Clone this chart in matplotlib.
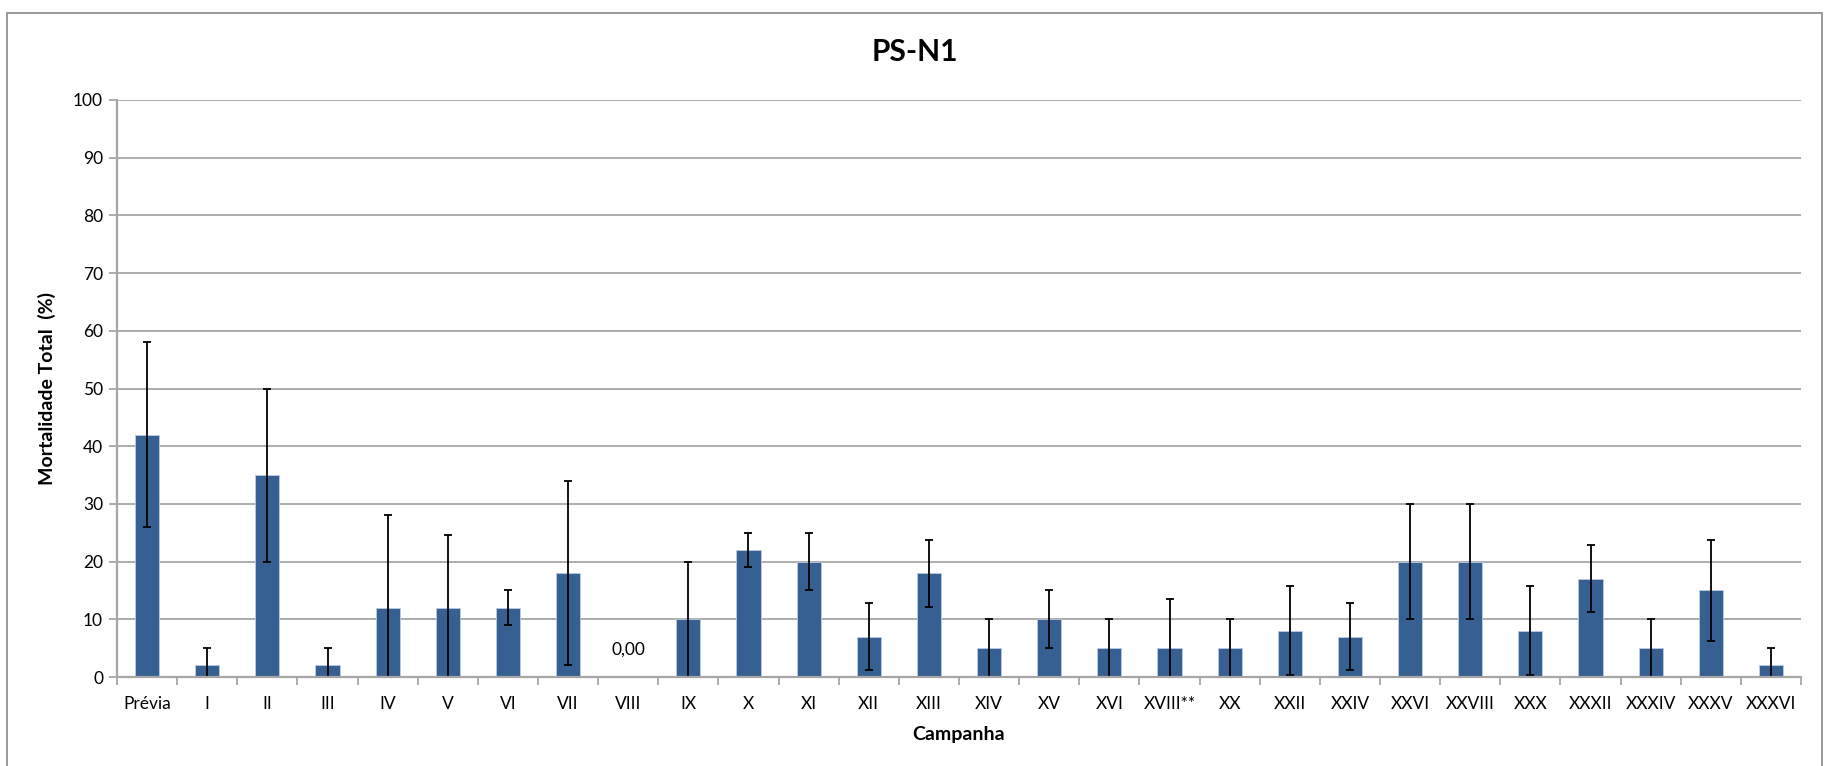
import matplotlib
matplotlib.use("Agg")
import matplotlib.pyplot as plt
from matplotlib.patches import Rectangle
import numpy as np

plt.rcParams['font.family'] = ['Lato', 'DejaVu Sans']

# Campaign labels, mean total mortality (%) and its deviation
campanhas = ["Prévia", "I", "II", "III", "IV", "V", "VI", "VII", "VIII", "IX",
             "X", "XI", "XII", "XIII", "XIV", "XV", "XVI", "XVIII**", "XX",
             "XXII", "XXIV", "XXVI", "XXVIII", "XXX", "XXXII", "XXXIV",
             "XXXV", "XXXVI"]
mortalidade = [42, 2, 35, 2, 12, 12, 12, 18, 0, 10,
               22, 20, 7, 18, 5, 10, 5, 5, 5,
               8, 7, 20, 20, 8, 17, 5,
               15, 2]
desvio = [16, 3, 15, 3, 16, 12.6, 3, 16, 0, 10,
          2.9, 5, 5.8, 5.8, 5, 5, 5, 8.6, 5,
          7.7, 5.8, 10, 10, 7.7, 5.8, 5,
          8.7, 3]
yticks = list(range(0, 101, 10))

W, H = 1825, 766
fig = plt.figure(figsize=(W / 100, H / 100), dpi=100)

# chart area frame (open at the bottom)
fig.add_artist(Rectangle((7.5 / W, -0.05), (1822 - 7.5) / W, 1.05 - 13 / H,
                         transform=fig.transFigure, fill=False,
                         edgecolor="#9a9a9a", linewidth=1.4))

ax = fig.add_axes([117 / W, 1 - 677 / H, (1801 - 117) / W, (677 - 100) / H])

x = np.arange(len(campanhas))
grid_col = "#a6a6a6"

ax.bar(x, mortalidade, width=0.4, color="#376092", edgecolor="#b9cde5",
       linewidth=0.6, zorder=2)
ax.errorbar(x, mortalidade, yerr=desvio, fmt="none", ecolor="black",
            elinewidth=1.3, capsize=3.2, capthick=1.3, zorder=2.3)

ax.set_xlim(-0.5, len(campanhas) - 0.5)
ax.set_ylim(0, 100)
ax.set_yticks(yticks)
ax.set_yticklabels([str(v) for v in yticks])
ax.yaxis.grid(True, color=grid_col, linewidth=1.3, zorder=0)
ax.set_axisbelow(True)

ax.set_xticks(x)
ax.set_xticklabels(campanhas)
ax.set_xticks(np.arange(-0.5, len(campanhas)), minor=True)
ax.tick_params(axis="x", which="major", length=0, pad=14, labelsize=12.5)
ax.tick_params(axis="x", which="minor", length=6, width=1.3, color=grid_col)
ax.tick_params(axis="y", length=6, width=1.3, color=grid_col, pad=4,
               labelsize=12.5)

for side in ("top", "right"):
    ax.spines[side].set_visible(False)
for side in ("left", "bottom"):
    ax.spines[side].set_color(grid_col)
    ax.spines[side].set_linewidth(1.6)
    ax.spines[side].set_zorder(2.5)

# value label for the zero bar
for xi, v in zip(x, mortalidade):
    if v == 0:
        ax.annotate(f"{v:.2f}".replace(".", ","), (xi, v), xytext=(0, 14),
                    textcoords="offset points", ha="center", va="bottom",
                    fontsize=12.5)

ax.set_xlabel("Campanha", fontsize=14, fontweight="bold", labelpad=10)
ax.set_ylabel("Mortalidade Total  (%)", fontsize=14, fontweight="bold",
              labelpad=12)

fig.text(915 / W, 1 - 52 / H, "PS-N1", ha="center", va="center",
         fontsize=21.5, fontweight="bold")

fig.savefig("out.png", dpi=100)
